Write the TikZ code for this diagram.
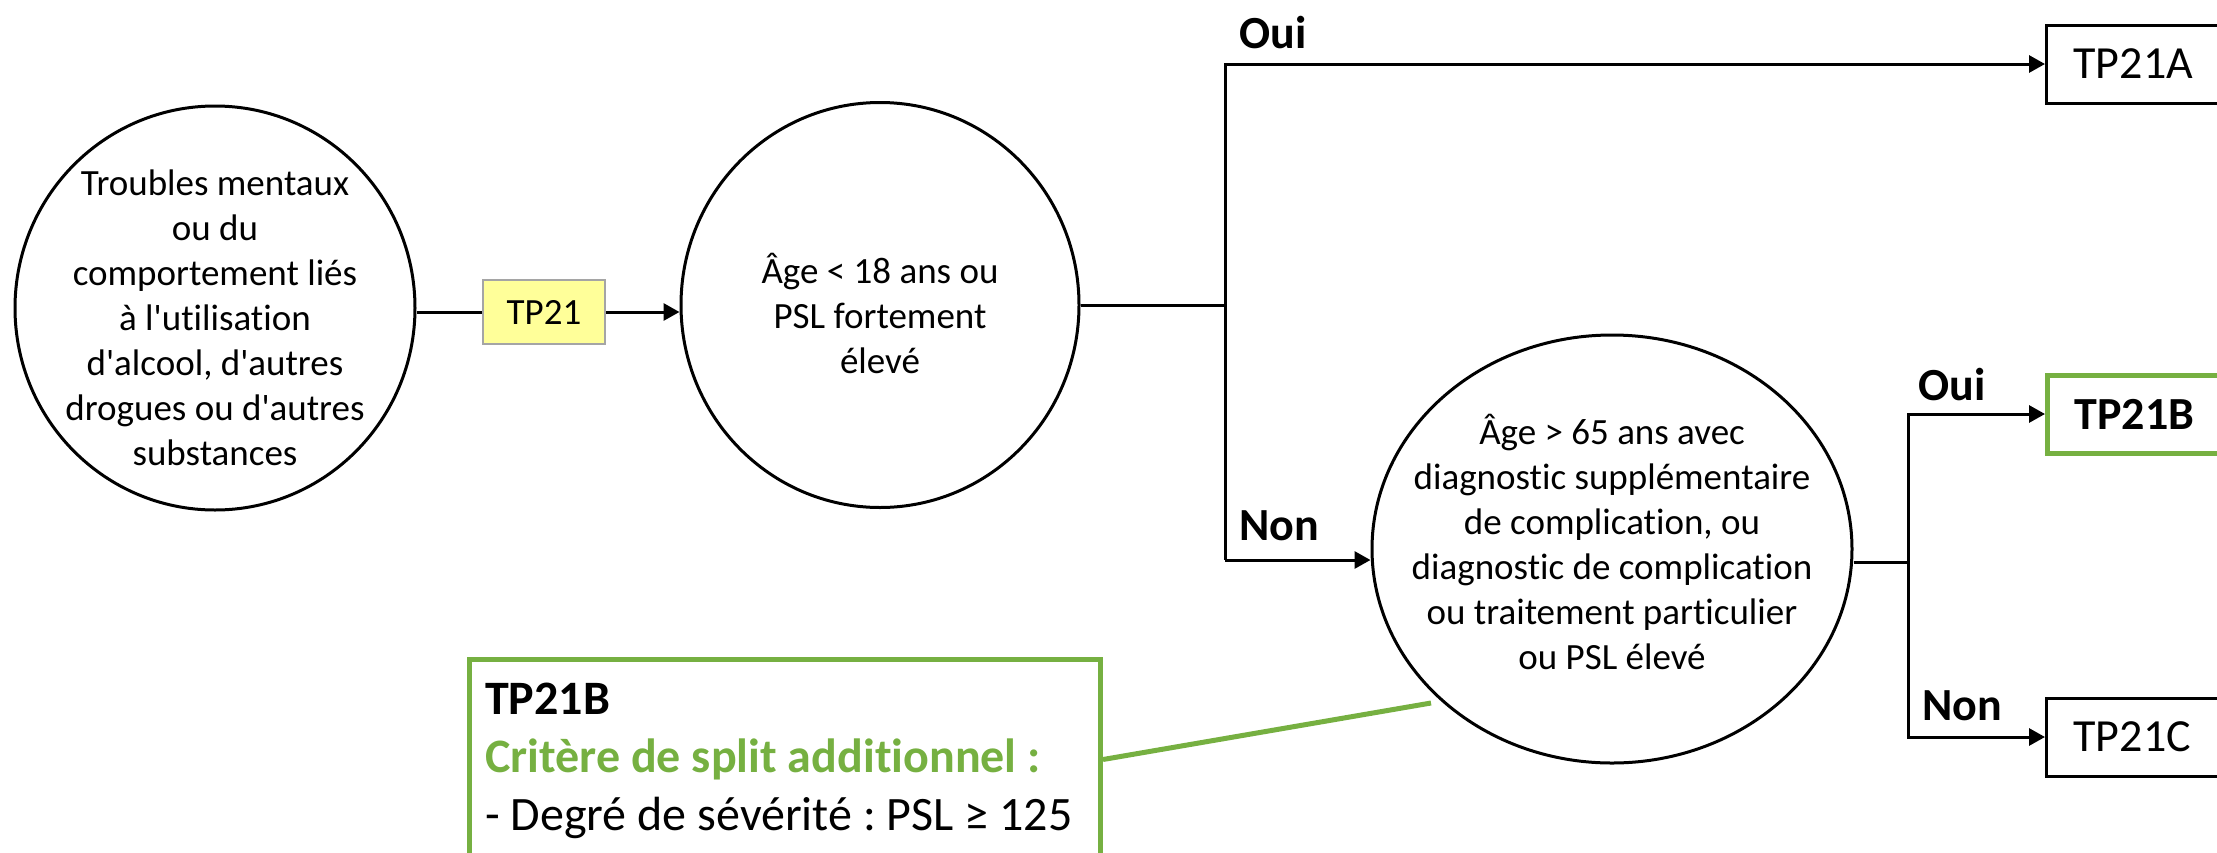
\documentclass[tikz,border=0pt]{standalone}
\usepackage{fontspec}
\setmainfont{Carlito}[Ligatures={TeXOff,NoCommon}]
\usetikzlibrary{arrows.meta,shapes.geometric}
\definecolor{gr}{RGB}{118,176,65}
\definecolor{yl}{RGB}{255,255,153}
\definecolor{gy}{RGB}{165,165,165}
\begin{document}
\frenchspacing
\begin{tikzpicture}[x=1pt,y=-1pt,
  circ/.style={ellipse, draw, line width=3pt, inner sep=0pt},
  ctext/.style={align=center, font=\fontsize{37}{45}\selectfont},
  conn/.style={line width=3pt},
  arr/.style={line width=3pt, -{Triangle[length=16pt,width=17pt]}},
  obox/.style={draw, line width=3pt, anchor=west, text width=170pt, inner xsep=27pt, inner ysep=0pt, minimum height=78pt, align=left, font=\fontsize{46}{50}\selectfont},
  lab/.style={font=\bfseries\fontsize{46}{50}\selectfont},
  gline/.style={draw=gr, line width=5pt}]
\useasboundingbox (0,0) rectangle (2217,852);
\clip (0,0) rectangle (2217,852);
% circles
\node[circ, minimum width=400pt, minimum height=404pt] (c1) at (215,308) {};
\node[ctext] (t1) at (215,318) {Troubles mentaux\\ou du\\comportement liés\\à l'utilisation\\d'alcool, d'autres\\drogues ou d'autres\\substances};
\node[circ, minimum width=398pt, minimum height=405pt] (c2) at (880,305) {};
\node[ctext] (t2) at (880,313) {Âge < 18 ans ou\\PSL fortement\\élevé};
\node[circ, minimum width=480pt, minimum height=428pt] (c3) at (1612,549) {};
\node[ctext] (t3) at (1612,542) {Âge > 65 ans avec\\diagnostic supplémentaire\\de complication, ou\\diagnostic de complication\\ou traitement particulier\\ou PSL élevé};
% TP21 box
\node[draw=gy, fill=yl, line width=2pt, minimum width=122pt, minimum height=64pt, inner sep=0pt, font=\fontsize{37}{44}\selectfont] (tp) at (544,312) {TP21};
% outcome boxes
\node[obox] (ta) at (2045,64) {TP21A};
\node[obox, draw=gr, line width=5pt, font=\bfseries\fontsize{46}{50}\selectfont] (tb) at (2045,414) {TP21B};
\node[obox] (tc) at (2045,737) {TP21C};
% junctions
\coordinate (j1) at (1225,305);
\coordinate (j1b) at (1225,560);
\coordinate (j2) at (1908,562);
% connectors
\draw[conn] (c1.east |- tp.west) -- (tp.west);
\draw[arr] (tp.east) -- (tp.east -| c2.west);
\draw[conn] (c2.east) -- (j1);
\draw[arr] (j1) |- (ta.west);
\draw[conn] (j1) -- (j1b);
\draw[arr] (j1b) -- (j1b -| c3.west);
\draw[conn] (c3.east |- j2) -- (j2);
\draw[arr] (j2) |- (tb.west);
\draw[arr] (j2) |- (tc.west);
% labels
\node[lab] (l1) at (1273,33) {Oui};
\node[lab] (l2) at (1279,526) {Non};
\node[lab] (l3) at (1952,385) {Oui};
\node[lab] (l4) at (1962,706) {Non};
% green note box
\node[draw=gr, line width=5pt, anchor=north west, minimum width=631pt, minimum height=200pt, inner sep=0pt] (gb) at (467,657) {};
\node[anchor=west, align=left, inner sep=0pt, font=\fontsize{48}{58}\selectfont] (gt) at (485,761) {\textbf{TP21B}\\{\color{gr}\textbf{Critère de split additionnel :}}\\- Degré de sévérité : PSL ≥ 125};
\coordinate (gend) at (1431,703);
\draw[gline] (gb.east) -- (gend);
\end{tikzpicture}
\end{document}
